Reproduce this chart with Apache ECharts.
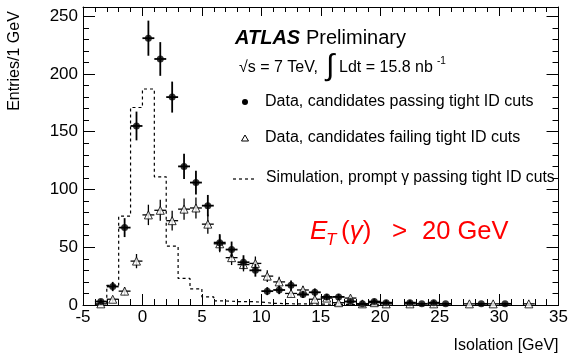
<!DOCTYPE html>
<html>
<head>
<meta charset="utf-8">
<script src="https://cdn.jsdelivr.net/npm/echarts@6/dist/echarts.min.js"></script>
<style>
  html, body { margin: 0; padding: 0; background: #fff; }
  #chart { width: 571px; height: 356px; }
</style>
</head>
<body>
<div id="chart"></div>
<script>
// bin centres (1 GeV bins)
const binCenters = [-3.5, -2.5, -1.5, -0.5, 0.5, 1.5, 2.5, 3.5, 4.5, 5.5, 6.5, 7.5, 8.5, 9.5,
  10.5, 11.5, 12.5, 13.5, 14.5, 15.5, 16.5, 17.5, 18.5, 19.5, 20.5, 21.5, 22.5, 23.5, 24.5,
  25.5, 26.5, 27.5, 28.5, 29.5, 30.5, 31.5, 32.5];
// data, candidates passing tight ID cuts
const passing = [3, 16, 67, 155, 231, 213, 180, 120, 106, 86, 54, 48, 37, 30,
  12, 13, 17, 9, 11, 7, 7, 3, 1, 3, 2, 0, 2, 1, 2,
  1, 0, 0, 1, 0, 1, 0, 0];
// data, candidates failing tight ID cuts
const failing = [1, 5, 12, 38, 78, 82, 73, 83, 84, 70, 53, 41, 35, 36,
  25, 20, 10, 13, 5, 6, 2, 6, 1, 2, 1, 0, 1, 0, 1,
  0, 0, 1, 0, 1, 0, 0, 1];
// simulation, prompt photon (step histogram)
const simEdges = [-4, -3, -2, -1, 0, 1, 2, 3, 4, 5, 6, 7, 8, 9, 10, 11, 12, 13, 14, 15, 16, 17, 18, 19, 20];
const simValues = [1, 17, 77, 171, 187, 111, 51, 23, 14, 7, 3.5, 3, 3, 2.5, 1.5, 1.2, 1, 1, 0.8, 0.6, 0.5, 0.4, 0.3, 0.2];

const xTicks = { min: -5, max: 35, interval: 5 };
const yTicks = { min: 0, max: 258, interval: 50 };

const font = 'Liberation Sans, Arial, Helvetica, sans-serif';

const toPoints = (vals) => binCenters
  .map((x, i) => [x, vals[i], Math.sqrt(vals[i])])
  .filter(p => p[1] > 0);

const simLine = [[simEdges[0], 0]];
simValues.forEach((v, i) => simLine.push([simEdges[i], v]));
simLine.push([simEdges[simEdges.length - 1], 0]);

// error bars: vertical sqrt(N), horizontal +-half bin
const errorBars = (width) => (params, api) => {
  const x = api.value(0), y = api.value(1), e = api.value(2);
  const lo = api.coord([x, Math.max(0, y - e)]);
  const hi = api.coord([x, y + e]);
  const l = api.coord([x - 0.5, y]);
  const r = api.coord([x + 0.5, y]);
  const st = { stroke: '#000', lineWidth: width };
  return {
    type: 'group',
    children: [
      { type: 'line', shape: { x1: lo[0], y1: lo[1], x2: hi[0], y2: hi[1] }, style: st },
      { type: 'line', shape: { x1: l[0], y1: l[1], x2: r[0], y2: r[1] }, style: st }
    ]
  };
};

const axisCommon = {
  axisLine: { show: true, onZero: false, lineStyle: { color: '#000', width: 1 } },
  splitLine: { show: false },
  minorSplitLine: { show: false }
};

const red = '#ff0000';
const chart = echarts.init(document.getElementById('chart'));
const option = {
  animation: false,
  backgroundColor: '#fff',
  grid: { left: 83, right: 11, top: 7, bottom: 51 },
  xAxis: [
    {
      ...axisCommon,
      type: 'value', position: 'bottom',
      min: xTicks.min, max: xTicks.max, interval: xTicks.interval,
      axisTick: { inside: true, length: 11, lineStyle: { color: '#000' } },
      minorTick: { show: true, splitNumber: 5, length: 6, lineStyle: { color: '#000' } },
      axisLabel: { color: '#000', fontSize: 17, fontFamily: font, margin: 4 },
      name: 'Isolation [GeV]',
      nameLocation: 'end',
      nameGap: 0,
      nameTextStyle: { color: '#000', fontSize: 16, fontFamily: font, align: 'right', verticalAlign: 'top', padding: [33, 0, 0, 0] }
    },
    {
      ...axisCommon,
      type: 'value', position: 'top',
      min: xTicks.min, max: xTicks.max, interval: xTicks.interval,
      axisTick: { inside: true, length: 9, lineStyle: { color: '#000' } },
      minorTick: { show: true, splitNumber: 5, length: 5, lineStyle: { color: '#000' } },
      axisLabel: { show: false }
    }
  ],
  yAxis: [
    {
      ...axisCommon,
      type: 'value', position: 'left',
      min: yTicks.min, max: yTicks.max, interval: yTicks.interval,
      axisTick: { inside: true, length: 12, lineStyle: { color: '#000' } },
      minorTick: { show: true, splitNumber: 5, length: 6, lineStyle: { color: '#000' } },
      axisLabel: {
        color: '#000', fontSize: 17, fontFamily: font, margin: 5,
        formatter: v => (v % 50 === 0 ? String(v) : '')
      }
    },
    {
      ...axisCommon,
      type: 'value', position: 'right',
      min: yTicks.min, max: yTicks.max, interval: yTicks.interval,
      axisTick: { inside: true, length: 12, lineStyle: { color: '#000' } },
      minorTick: { show: true, splitNumber: 5, length: 6, lineStyle: { color: '#000' } },
      axisLabel: { show: false }
    }
  ],
  series: [
    {
      name: 'Simulation',
      type: 'line',
      step: 'end',
      data: simLine,
      symbol: 'none',
      lineStyle: { color: '#000', width: 1.2, type: [3, 3] },
      z: 1
    },
    {
      name: 'failing-err',
      type: 'custom',
      data: toPoints(failing),
      renderItem: errorBars(1.3),
      clip: true,
      z: 2
    },
    {
      name: 'failing',
      type: 'scatter',
      data: toPoints(failing),
      symbol: 'triangle',
      symbolSize: 8,
      itemStyle: { color: '#fff', borderColor: '#000', borderWidth: 1 },
      z: 3
    },
    {
      name: 'passing-err',
      type: 'custom',
      data: toPoints(passing),
      renderItem: errorBars(1.8),
      clip: true,
      z: 4
    },
    {
      name: 'passing',
      type: 'scatter',
      data: toPoints(passing),
      symbol: 'circle',
      symbolSize: 7,
      itemStyle: { color: '#000' },
      z: 5
    }
  ],
  graphic: [
    // axis title
    { type: 'text', x: 15, y: 61, rotation: Math.PI / 2,
      style: { text: 'Entries/1 GeV', font: '16px ' + font, fill: '#000', align: 'center', verticalAlign: 'middle' } },
    // ATLAS label
    { type: 'text', x: 235, y: 38,
      style: { text: 'ATLAS', font: 'italic bold 20px ' + font, fill: '#000', verticalAlign: 'middle' } },
    { type: 'text', x: 306, y: 38,
      style: { text: 'Preliminary', font: '20px ' + font, fill: '#000', verticalAlign: 'middle' } },
    { type: 'text', x: 239, y: 68,
      style: { text: '\u221As = 7 TeV,', font: '16px ' + font, fill: '#000', verticalAlign: 'middle' } },
    { type: 'text', x: 326, y: 67,
      style: { text: '\u222B', font: '30px ' + font, fill: '#000', verticalAlign: 'middle' } },
    { type: 'text', x: 339, y: 68,
      style: { text: 'Ldt = 15.8 nb', font: '16px ' + font, fill: '#000', verticalAlign: 'middle' } },
    { type: 'text', x: 437, y: 61,
      style: { text: '-1', font: '10px ' + font, fill: '#000', verticalAlign: 'middle' } },
    // legend
    { type: 'circle', shape: { cx: 245, cy: 102, r: 3 }, style: { fill: '#000' } },
    { type: 'text', x: 265, y: 102,
      style: { text: 'Data, candidates passing tight ID cuts', font: '16px ' + font, fill: '#000', verticalAlign: 'middle' } },
    { type: 'polygon', shape: { points: [[245, 135], [248.5, 141], [241.5, 141]] }, style: { fill: '#fff', stroke: '#000', lineWidth: 1 } },
    { type: 'text', x: 265, y: 138,
      style: { text: 'Data, candidates failing tight ID cuts', font: '16px ' + font, fill: '#000', verticalAlign: 'middle' } },
    { type: 'line', shape: { x1: 233, y1: 179, x2: 256, y2: 179 }, style: { stroke: '#000', lineWidth: 1.2, lineDash: [3, 3] } },
    { type: 'text', x: 266, y: 178,
      style: { text: 'Simulation, prompt \u03B3 passing tight ID cuts', font: '15.7px ' + font, fill: '#000', verticalAlign: 'middle' } },
    // E_T(gamma) > 20 GeV
    { type: 'text', x: 310, y: 232,
      style: { text: 'E', font: 'italic 26px ' + font, fill: red, verticalAlign: 'middle' } },
    { type: 'text', x: 326, y: 240,
      style: { text: 'T', font: 'italic 17px ' + font, fill: red, verticalAlign: 'middle' } },
    { type: 'text', x: 341, y: 232,
      style: {
        text: '{n|(}{i|\u03B3}{n|)}',
        rich: {
          n: { font: '26px ' + font, fill: red },
          i: { font: 'italic 26px ' + font, fill: red }
        },
        verticalAlign: 'middle'
      } },
    { type: 'text', x: 392, y: 232,
      style: { text: '>', font: '26px ' + font, fill: red, verticalAlign: 'middle' } },
    { type: 'text', x: 422, y: 232,
      style: { text: '20 GeV', font: '25.5px ' + font, fill: red, verticalAlign: 'middle' } }
  ]
};
chart.setOption(option);
window.addEventListener('resize', () => chart.resize());
</script>
</body>
</html>
